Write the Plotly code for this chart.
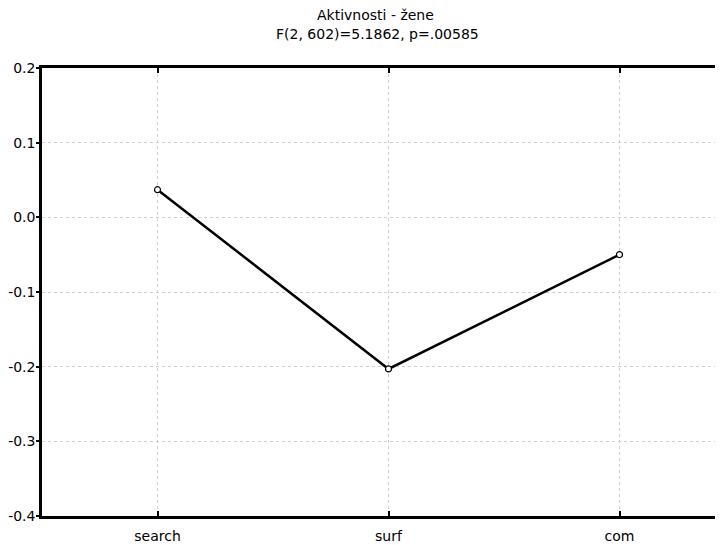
import plotly.graph_objects as go

categories = ["search", "surf", "com"]
values = [0.037, -0.203, -0.050]
y_ticks = [0.2, 0.1, 0.0, -0.1, -0.2, -0.3, -0.4]
y_tick_labels = ["0.2", "0.1", "0.0", "-0.1", "-0.2", "-0.3", "-0.4"]
title_line1 = "Aktivnosti - žene"
title_line2 = "F(2, 602)=5.1862, p=.00585"

FAMILY = "DejaVu Sans, Arial, sans-serif"
OFF = 8  # page body margin offset
L, R, T, B = 42 - OFF, 0, 68 - OFF, 545 - (516 - OFF)
W, H = 723, 545
PW, PH = W - L - R, H - T - B
UNIT = 231.0  # px per category
x_hi = -0.5 + PW / UNIT

fig = go.Figure()
fig.add_trace(go.Scatter(
    x=[0, 1, 2], y=values, mode="lines+markers",
    line=dict(color="black", width=2.5),
    marker=dict(symbol="circle", size=6, color="white",
                line=dict(color="black", width=1.2)),
    showlegend=False,
))

font = dict(family=FAMILY, size=14, color="black")

fig.update_layout(
    width=W, height=H,
    margin=dict(l=L, r=R, t=T, b=B, autoexpand=False),
    paper_bgcolor="white", plot_bgcolor="white",
    font=font,
    xaxis=dict(
        range=[-0.5, x_hi], tickmode="array", tickvals=[0, 1, 2],
        ticktext=categories, showline=True, linecolor="black", linewidth=2.5,
        mirror="allticks", ticks="inside", ticklen=5, tickwidth=2, tickcolor="black",
        showgrid=True, gridcolor="#d0d0d0", griddash="dot", gridwidth=1,
        zeroline=False, tickfont=font, automargin=False, ticklabelstandoff=5,
    ),
    yaxis=dict(
        range=[-0.4, 0.2], tickmode="array", tickvals=y_ticks, ticktext=y_tick_labels,
        showline=True, linecolor="black", linewidth=2.5, mirror=True,
        ticks="outside", ticklen=3, tickwidth=2, tickcolor="black",
        showgrid=True, gridcolor="#d0d0d0", griddash="dot", gridwidth=1,
        zeroline=False, tickfont=font, automargin=False, ticklabelstandoff=-2,
    ),
)


def px_x(px):
    return (px - OFF - L) / PW


def px_y(py):
    return 1 + (T - (py - OFF)) / PH


fig.add_annotation(text=title_line1, xref="paper", yref="paper", x=px_x(375), y=px_y(15),
                   showarrow=False, xanchor="center", yanchor="middle",
                   font=dict(family=FAMILY, size=14, color="black"))
fig.add_annotation(text=title_line2, xref="paper", yref="paper", x=px_x(377), y=px_y(34),
                   showarrow=False, xanchor="center", yanchor="middle",
                   font=dict(family=FAMILY, size=14, color="black"))

fig.write_html("out.html")
